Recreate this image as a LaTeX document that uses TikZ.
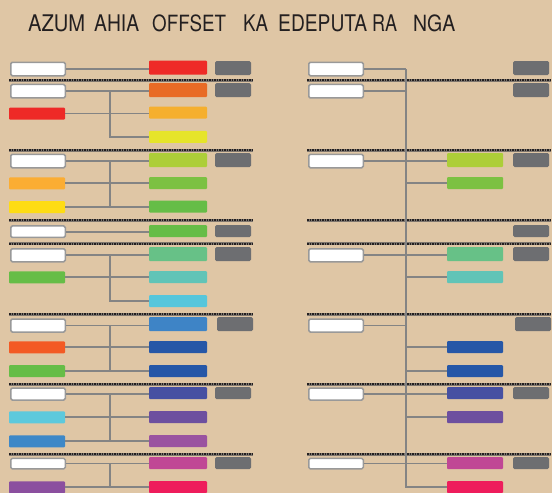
\documentclass[tikz,border=0pt]{standalone}
\usepackage{fontspec}
\setmainfont{TeX Gyre Heros}
\definecolor{bg}{HTML}{DFC6A5}
\definecolor{ttl}{HTML}{231F20}
\definecolor{gb}{HTML}{6D6E71}
\definecolor{wbo}{HTML}{999999}
\definecolor{cn}{HTML}{848484}
\definecolor{sepd}{HTML}{231F20}
\definecolor{sepg}{HTML}{7E766E}
\definecolor{cRed}{HTML}{EE2A27}
\definecolor{cOrg}{HTML}{E86B25}
\definecolor{cOy}{HTML}{F5AF2E}
\definecolor{cYel}{HTML}{E6E42A}
\definecolor{cLOrg}{HTML}{FBAD33}
\definecolor{cLYel}{HTML}{FEDC14}
\definecolor{cLime}{HTML}{ADCE38}
\definecolor{cGrn}{HTML}{7CC142}
\definecolor{cGrn2}{HTML}{66BD47}
\definecolor{cMint}{HTML}{67C187}
\definecolor{cTeal}{HTML}{61C4B7}
\definecolor{cLBlu}{HTML}{57C6DB}
\definecolor{cBlu}{HTML}{3E84C6}
\definecolor{cDBlu}{HTML}{2657A7}
\definecolor{cORed}{HTML}{F35A24}
\definecolor{cInd}{HTML}{4650A2}
\definecolor{cPur}{HTML}{6D4F9F}
\definecolor{cVio}{HTML}{9A53A0}
\definecolor{cCyan}{HTML}{5DC9DC}
\definecolor{cLBl2}{HTML}{3E88C7}
\definecolor{cMag}{HTML}{C04795}
\definecolor{cCrim}{HTML}{EE1D5C}
\definecolor{cLPur}{HTML}{8B4F9F}
\tikzset{
  wbox/.style={draw=wbo, line width=1.5pt, fill=white, rounded corners=1.5pt, minimum width=54.5pt, inner sep=0pt},
  cbox/.style={draw=none, rounded corners=1pt, inner sep=0pt},
  gbox/.style={fill=gb, draw=none, rounded corners=1.5pt, minimum width=36pt, inner sep=0pt},
  conn/.style={draw=cn, line width=1.7pt},
  sepbase/.style={draw=sepg, line width=3pt},
  sepdash/.style={draw=sepd, line width=2pt, dash pattern=on 1.5pt off 1pt},
  ttlword/.style={anchor=south west, inner sep=0pt, text=ttl}
}
\newcommand{\cbx}[6]{\node[cbox, fill=#2, minimum width=#5pt, minimum height=#6pt] (#1) at (#3,#4) {};}
\newcommand{\wbx}[4]{\node[wbox, minimum height=#4pt] (#1) at (#2,#3) {};}
\newcommand{\gbx}[4]{\node[gbox, minimum height=#4pt] (#1) at (#2,#3) {};}
\newcommand{\sepl}[3]{\draw[sepbase] (#1,#3) -- (#2,#3); \draw[sepdash] (#1,#3) -- (#2,#3);}
\newcommand{\tword}[4]{\node[ttlword] (#1) at (#2,31.7) {\resizebox{#3pt}{16.7pt}{#4}};}
\begin{document}
\begin{tikzpicture}[x=1pt,y=-1pt]
\fill[bg] (0,0) rectangle (552,493);
\useasboundingbox (0,0) rectangle (552,493);
% title
\tword{t1}{28}{57}{AZUM}
\tword{t2}{94}{45}{AHIA}
\tword{t3}{152}{74}{OFFSET}
\tword{t4}{243}{25}{KA}
\tword{t5}{278}{89}{EDEPUTA}
\tword{t6}{372}{25}{RA}
\tword{t7}{413}{42}{NGA}
% separators
\foreach \yy in {80,150,220,243.7,314,384,454}{
  \sepl{9}{253}{\yy}
  \sepl{307}{551}{\yy}
}
\coordinate (tL) at (110,0);
\coordinate (tR) at (406,0);
% ---------- left column ----------
% white boxes
\wbx{w1}{38}{69}{13.5}
\wbx{w2}{38}{91.2}{13.5}
\wbx{w3}{38}{161}{13.5}
\wbx{w4}{38}{231.7}{11.5}
\wbx{w5}{38}{255.3}{13}
\wbx{w6}{38}{325.5}{13}
\wbx{w7}{38}{394}{12}
\wbx{w8}{38}{463.6}{10.5}
% left coloured
\cbx{l2}{cRed}{37}{113.5}{56}{12}
\cbx{l3a}{cLOrg}{37}{183.3}{56}{12}
\cbx{l3b}{cLYel}{37}{207.2}{56}{12}
\cbx{l5}{cGrn2}{37}{277.3}{56}{12}
\cbx{l6a}{cORed}{37}{347.3}{56}{12}
\cbx{l6b}{cGrn2}{37}{371.2}{56}{12}
\cbx{l7a}{cCyan}{37}{417.3}{56}{12}
\cbx{l7b}{cLBl2}{37}{441.3}{56}{12}
\cbx{l8}{cLPur}{37}{487.3}{56}{12}
% middle coloured
\cbx{m1}{cRed}{178}{67.7}{58}{14}
\cbx{m2a}{cOrg}{178}{90}{58}{14}
\cbx{m2b}{cOy}{178}{112.7}{58}{12}
\cbx{m2c}{cYel}{178}{136.9}{58}{12}
\cbx{m3a}{cLime}{178}{160}{58}{14}
\cbx{m3b}{cGrn}{178}{183}{58}{12}
\cbx{m3c}{cGrn2}{178}{206.7}{58}{12}
\cbx{m4}{cGrn2}{178}{231}{58}{12}
\cbx{m5a}{cMint}{178}{254}{58}{14}
\cbx{m5b}{cTeal}{178}{277}{58}{12}
\cbx{m5c}{cLBlu}{178}{301.2}{58}{12}
\cbx{m6a}{cBlu}{178}{324}{58}{14}
\cbx{m6b}{cDBlu}{178}{347}{58}{12}
\cbx{m6c}{cDBlu}{178}{371}{58}{12}
\cbx{m7a}{cInd}{178}{393}{58}{12}
\cbx{m7b}{cPur}{178}{417}{58}{12}
\cbx{m7c}{cVio}{178}{441}{58}{12}
\cbx{m8a}{cMag}{178}{463}{58}{12}
\cbx{m8b}{cCrim}{178}{487}{58}{12}
% grey boxes left
\gbx{g1}{233}{68}{14}
\gbx{g2}{233}{90}{14}
\gbx{g3}{233}{160}{14}
\gbx{g4}{233}{231}{12}
\gbx{g5}{233}{254}{14}
\gbx{g6}{235}{324}{14}
\gbx{g7}{233}{393}{12}
\gbx{g8}{233}{463}{12}
% left connectors
\draw[conn] (w1.east) -- (w1.east -| m1.west);
\draw[conn] (w2.east) -- (w2.east -| m2a.west);
\draw[conn] (l2.east) -- (l2.east -| m2b.west);
\draw[conn] (tL |- w2.east) -- (tL |- m2c.west) -- (m2c.west);
\draw[conn] (w3.east) -- (w3.east -| m3a.west);
\draw[conn] (l3a.east) -- (l3a.east -| m3b.west);
\draw[conn] (l3b.east) -- (l3b.east -| m3c.west);
\draw[conn] (tL |- w3.east) -- (tL |- l3b.east);
\draw[conn] (w4.east) -- (w4.east -| m4.west);
\draw[conn] (w5.east) -- (w5.east -| m5a.west);
\draw[conn] (l5.east) -- (l5.east -| m5b.west);
\draw[conn] (tL |- w5.east) -- (tL |- m5c.west) -- (m5c.west);
\draw[conn] (w6.east) -- (w6.east -| m6a.west);
\draw[conn] (l6a.east) -- (l6a.east -| m6b.west);
\draw[conn] (l6b.east) -- (l6b.east -| m6c.west);
\draw[conn] (tL |- w6.east) -- (tL |- l6b.east);
\draw[conn] (w7.east) -- (w7.east -| m7a.west);
\draw[conn] (l7a.east) -- (l7a.east -| m7b.west);
\draw[conn] (l7b.east) -- (l7b.east -| m7c.west);
\draw[conn] (tL |- w7.east) -- (tL |- l7b.east);
\draw[conn] (w8.east) -- (w8.east -| m8a.west);
\draw[conn] (l8.east) -- (l8.east -| m8b.west);
\draw[conn] (tL |- w8.east) -- (tL |- l8.east);
% ---------- right column ----------
\wbx{rw1}{336}{69}{13.5}
\wbx{rw2}{336}{91.2}{13.5}
\wbx{rw3}{336}{161}{13.5}
\wbx{rw5}{336}{255.3}{13}
\wbx{rw6}{336}{325.5}{13}
\wbx{rw7}{336}{394}{12}
\wbx{rw8}{336}{463.6}{10.5}
\cbx{rm3a}{cLime}{475}{160}{56}{14}
\cbx{rm3b}{cGrn}{475}{183}{56}{12}
\cbx{rm5a}{cMint}{475}{254}{56}{14}
\cbx{rm5b}{cTeal}{475}{277}{56}{12}
\cbx{rm6b}{cDBlu}{475}{347}{56}{12}
\cbx{rm6c}{cDBlu}{475}{371}{56}{12}
\cbx{rm7a}{cInd}{475}{393}{56}{12}
\cbx{rm7b}{cPur}{475}{417}{56}{12}
\cbx{rm8a}{cMag}{475}{463}{56}{12}
\cbx{rm8b}{cCrim}{475}{487}{56}{12}
\gbx{rg1}{531}{68}{14}
\gbx{rg2}{531}{90}{14}
\gbx{rg3}{531}{160}{14}
\gbx{rg4}{531}{231}{12}
\gbx{rg5}{531}{254}{14}
\gbx{rg6}{533}{324}{14}
\gbx{rg7}{531}{393}{12}
\gbx{rg8}{531}{463}{12}
% right connectors
\draw[conn] (tR |- rw1.east) -- (tR |- rm8b.west) -- (rm8b.west);
\draw[conn] (rw1.east) -- (rw1.east -| tR);
\draw[conn] (rw2.east) -- (rw2.east -| tR);
\draw[conn] (rw3.east) -- (rw3.east -| rm3a.west);
\draw[conn] (tR |- rm3b.west) -- (rm3b.west);
\draw[conn] (rw5.east) -- (rw5.east -| rm5a.west);
\draw[conn] (tR |- rm5b.west) -- (rm5b.west);
\draw[conn] (rw6.east) -- (rw6.east -| tR);
\draw[conn] (tR |- rm6b.west) -- (rm6b.west);
\draw[conn] (tR |- rm6c.west) -- (rm6c.west);
\draw[conn] (rw7.east) -- (rw7.east -| rm7a.west);
\draw[conn] (tR |- rm7b.west) -- (rm7b.west);
\draw[conn] (rw8.east) -- (rw8.east -| rm8a.west);
\end{tikzpicture}
\end{document}
